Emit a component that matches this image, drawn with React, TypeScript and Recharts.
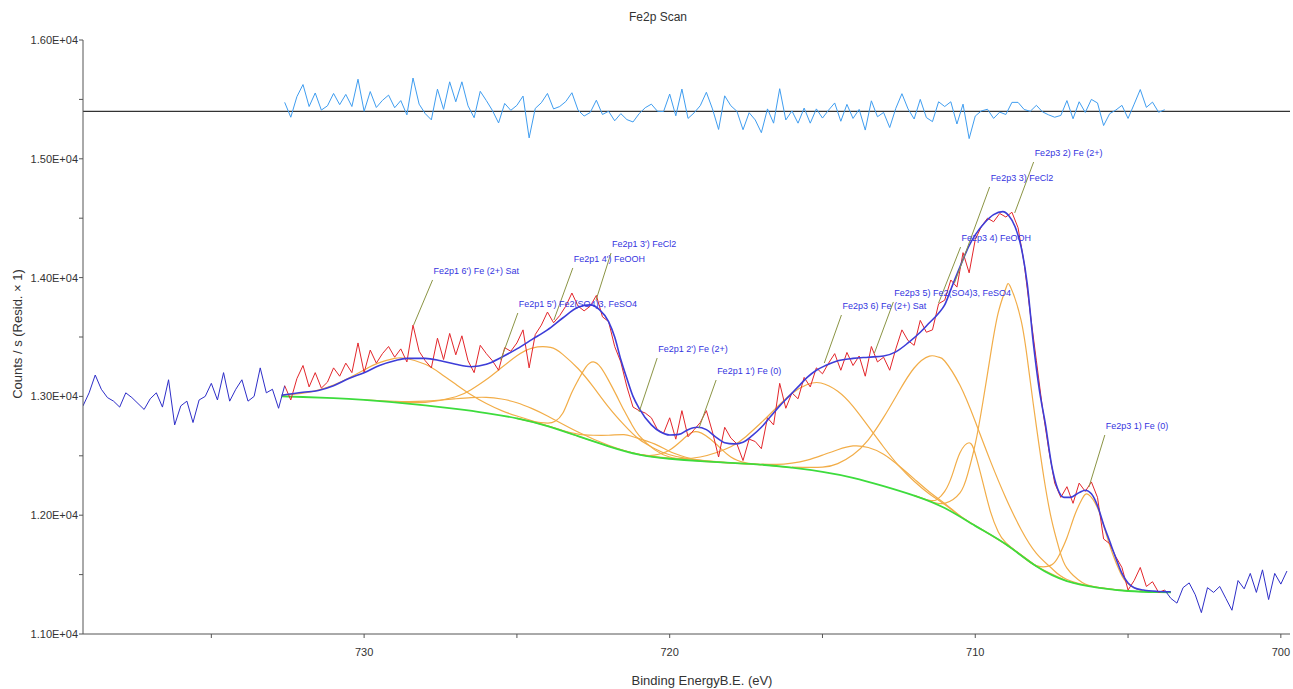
import React from "react";
import {
  ComposedChart,
  Line,
  Scatter,
  XAxis,
  YAxis,
  ReferenceLine,
} from "recharts";

// axis ticks
const xTicks = [735, 730, 725, 720, 715, 710, 705, 700];
const yTicks = [11000, 11500, 12000, 12500, 13000, 13500, 14000, 14500, 15000, 15500, 16000];

// raw counts outside the fitted region (drawn blue)
const rawLeft: [number, number][] = [
  [739.2, 12920], [739.0, 13030], [738.8, 13180], [738.6, 13060], [738.4, 12990], [738.2, 12960],
  [738.0, 12910], [737.8, 13030], [737.6, 12990], [737.4, 12940], [737.2, 12890], [737.0, 12980],
  [736.8, 13030], [736.6, 12910], [736.4, 13140], [736.2, 12760], [736.0, 12920], [735.8, 12960],
  [735.6, 12780], [735.4, 12970], [735.2, 13000], [735.0, 13110], [734.8, 12970], [734.6, 13200],
  [734.4, 12960], [734.2, 13060], [734.0, 13140], [733.8, 12960], [733.6, 13000], [733.4, 13240],
  [733.2, 13030], [733.0, 13060], [732.8, 12900], [732.6, 13090],
];

const rawRight: [number, number][] = [
  [703.8, 11370], [703.6, 11300], [703.4, 11260], [703.2, 11390], [703.0, 11430], [702.8, 11330],
  [702.6, 11180], [702.4, 11390], [702.2, 11350], [702.0, 11400], [701.8, 11300], [701.6, 11200],
  [701.4, 11450], [701.2, 11380], [701.0, 11510], [700.8, 11350], [700.6, 11540], [700.4, 11290],
  [700.2, 11510], [700.0, 11420], [699.8, 11530],
];

// raw counts inside the fitted region (drawn red)
const fitRegion: [number, number][] = [
  [732.6, 13090], [732.4, 12970], [732.2, 13150], [732.0, 13260], [731.8, 13080], [731.6, 13200],
  [731.4, 13070], [731.2, 13120], [731.0, 13240], [730.8, 13170], [730.6, 13280], [730.4, 13200],
  [730.2, 13450], [730.0, 13200], [729.8, 13390], [729.6, 13280], [729.4, 13360], [729.2, 13420],
  [729.0, 13330], [728.8, 13400], [728.6, 13290], [728.4, 13600], [728.2, 13380], [728.0, 13300],
  [727.8, 13240], [727.6, 13490], [727.4, 13310], [727.2, 13530], [727.0, 13350], [726.8, 13510],
  [726.6, 13300], [726.4, 13200], [726.2, 13430], [726.0, 13360], [725.8, 13300], [725.6, 13220],
  [725.4, 13410], [725.2, 13380], [725.0, 13450], [724.8, 13560], [724.6, 13240], [724.4, 13520],
  [724.2, 13600], [724.0, 13710], [723.8, 13620], [723.6, 13680], [723.4, 13760], [723.2, 13870],
  [723.0, 13760], [722.8, 13720], [722.6, 13760], [722.4, 13850], [722.2, 13670], [722.0, 13630],
  [721.8, 13420], [721.6, 13290], [721.4, 13080], [721.2, 12910], [721.0, 12880], [720.8, 12860],
  [720.6, 12820], [720.4, 12720], [720.2, 12690], [720.0, 12820], [719.8, 12640], [719.6, 12880],
  [719.4, 12660], [719.2, 12720], [719.0, 12780], [718.8, 12880], [718.6, 12700], [718.4, 12490],
  [718.2, 12740], [718.0, 12650], [717.8, 12600], [717.6, 12460], [717.4, 12640], [717.2, 12620],
  [717.0, 12560], [716.8, 12820], [716.6, 12760], [716.4, 13110], [716.2, 12900], [716.0, 13030],
  [715.8, 12980], [715.6, 13160], [715.4, 13080], [715.2, 13240], [715.0, 13190], [714.8, 13280],
  [714.6, 13360], [714.4, 13220], [714.2, 13370], [714.0, 13260], [713.8, 13340], [713.6, 13170],
  [713.4, 13420], [713.2, 13290], [713.0, 13330], [712.8, 13220], [712.6, 13400], [712.4, 13560],
  [712.2, 13470], [712.0, 13430], [711.8, 13640], [711.6, 13540], [711.4, 13560], [711.2, 13780],
  [711.0, 13810], [710.8, 13980], [710.6, 13920], [710.4, 14210], [710.2, 14040], [710.0, 14320],
  [709.8, 14430], [709.6, 14500], [709.4, 14470], [709.2, 14540], [709.0, 14510], [708.8, 14550],
  [708.6, 14420], [708.4, 14120], [708.2, 13700], [708.0, 13300], [707.8, 12900], [707.6, 12560],
  [707.4, 12270], [707.2, 12150], [707.0, 12240], [706.8, 12100], [706.6, 12270], [706.4, 12200],
  [706.2, 12280], [706.0, 12150], [705.8, 11800], [705.6, 11760], [705.4, 11650], [705.2, 11560],
  [705.0, 11370], [704.8, 11450], [704.6, 11560], [704.4, 11400], [704.2, 11440], [704.0, 11350],
  [703.8, 11370],
];

// residual, offset to the 15400 line
const residual: [number, number][] = [
  [732.6, 15475], [732.4, 15350], [732.2, 15523], [732.0, 15625], [731.8, 15440], [731.6, 15554],
  [731.4, 15410], [731.2, 15446], [731.0, 15550], [730.8, 15456], [730.6, 15542], [730.4, 15440],
  [730.2, 15670], [730.0, 15400], [729.8, 15566], [729.6, 15432], [729.4, 15492], [729.2, 15536],
  [729.0, 15430], [728.8, 15490], [728.6, 15370], [728.4, 15680], [728.2, 15460], [728.0, 15380],
  [727.8, 15328], [727.6, 15586], [727.4, 15416], [727.2, 15648], [727.0, 15480], [726.8, 15648],
  [726.6, 15446], [726.4, 15346], [726.2, 15568], [726.0, 15490], [725.8, 15406], [725.6, 15302],
  [725.4, 15466], [725.2, 15408], [725.0, 15450], [724.8, 15528], [724.6, 15176], [724.4, 15424],
  [724.2, 15472], [724.0, 15550], [723.8, 15420], [723.6, 15440], [723.4, 15482], [723.2, 15556],
  [723.0, 15410], [722.8, 15360], [722.6, 15390], [722.4, 15493], [722.2, 15373], [722.0, 15400],
  [721.8, 15320], [721.6, 15380], [721.4, 15330], [721.2, 15310], [721.0, 15380], [720.8, 15430],
  [720.6, 15460], [720.4, 15400], [720.2, 15398], [720.0, 15545], [719.8, 15362], [719.6, 15587],
  [719.4, 15340], [719.2, 15387], [719.0, 15447], [718.8, 15560], [718.6, 15420], [718.4, 15247],
  [718.2, 15530], [718.0, 15447], [717.8, 15400], [717.6, 15245], [717.4, 15388], [717.2, 15327],
  [717.0, 15220], [716.8, 15420], [716.6, 15300], [716.4, 15590], [716.2, 15327], [716.0, 15403],
  [715.8, 15300], [715.6, 15427], [715.4, 15300], [715.2, 15420], [715.0, 15343], [714.8, 15410],
  [714.6, 15470], [714.4, 15316], [714.2, 15458], [714.0, 15340], [713.8, 15416], [713.6, 15242],
  [713.4, 15488], [713.2, 15354], [713.0, 15390], [712.8, 15263], [712.6, 15425], [712.4, 15548],
  [712.2, 15420], [712.0, 15335], [711.8, 15500], [711.6, 15347], [711.4, 15313], [711.2, 15480],
  [711.0, 15440], [710.8, 15480], [710.6, 15293], [710.4, 15460], [710.2, 15170], [710.0, 15360],
  [709.8, 15403], [709.6, 15417], [709.4, 15340], [709.2, 15393], [709.0, 15373], [708.8, 15475],
  [708.6, 15475], [708.4, 15415], [708.2, 15400], [708.0, 15450], [707.8, 15395], [707.6, 15370],
  [707.4, 15350], [707.2, 15365], [707.0, 15490], [706.8, 15337], [706.6, 15480], [706.4, 15390],
  [706.2, 15500], [706.0, 15470], [705.8, 15280], [705.6, 15380], [705.4, 15410], [705.2, 15450],
  [705.0, 15340], [704.8, 15460], [704.6, 15583], [704.4, 15433], [704.2, 15477], [704.0, 15392],
  [703.8, 15413],
];

// fitted envelope
const envelope: [number, number][] = [
  [732.7, 13010], [732.0, 13035], [731.5, 13050], [731.0, 13090], [730.5, 13150], [730.0, 13200],
  [729.5, 13260], [729.0, 13300], [728.6, 13320], [728.0, 13320], [727.5, 13300], [727.0, 13270],
  [726.5, 13250], [726.0, 13270], [725.5, 13330], [725.0, 13400], [724.5, 13480], [724.0, 13560],
  [723.5, 13660], [723.0, 13750], [722.6, 13770], [722.3, 13730], [722.0, 13630], [721.8, 13500],
  [721.6, 13310], [721.4, 13150], [721.2, 13000], [721.0, 12900], [720.6, 12760], [720.3, 12700],
  [720.0, 12675], [719.7, 12680], [719.4, 12720], [719.1, 12740], [718.8, 12720], [718.5, 12660],
  [718.2, 12610], [717.9, 12600], [717.6, 12615], [717.3, 12670], [717.0, 12740], [716.7, 12830],
  [716.4, 12920], [716.1, 13000], [715.8, 13080], [715.5, 13160], [715.2, 13220], [714.9, 13260],
  [714.5, 13300], [714.0, 13320], [713.5, 13330], [713.0, 13340], [712.6, 13375], [712.2, 13450],
  [711.8, 13540], [711.5, 13620], [711.2, 13700], [711.0, 13770], [710.8, 13900], [710.5, 14090],
  [710.2, 14270], [710.0, 14360], [709.7, 14460], [709.4, 14530], [709.1, 14555], [708.9, 14520],
  [708.7, 14430], [708.5, 14260], [708.3, 13950], [708.1, 13450], [707.9, 13050], [707.7, 12760],
  [707.5, 12420], [707.3, 12220], [707.1, 12150], [706.9, 12150], [706.6, 12190], [706.4, 12210],
  [706.2, 12180], [706.0, 12080], [705.8, 11920], [705.6, 11780], [705.4, 11640], [705.2, 11510],
  [705.0, 11430], [704.8, 11390], [704.5, 11370], [704.0, 11358], [703.6, 11355],
];

// Shirley background
const background: [number, number][] = [
  [732.7, 13000], [732.0, 12995], [731.0, 12985], [730.0, 12970], [729.0, 12950], [728.0, 12925],
  [727.0, 12895], [726.0, 12860], [725.0, 12815], [724.0, 12750], [723.0, 12665], [722.0, 12580],
  [721.0, 12510], [720.0, 12475], [719.0, 12455], [718.0, 12440], [717.0, 12425], [716.0, 12400],
  [715.0, 12365], [714.0, 12315], [713.0, 12245], [712.0, 12165], [711.0, 12060], [710.0, 11910],
  [709.0, 11755], [708.0, 11570], [707.0, 11445], [706.0, 11390], [705.0, 11362], [704.0, 11352],
  [703.6, 11350],
];

// fitted components
const fe2p3_1: [number, number][] = [
  [709.0, 11755], [708.5, 11662], [708.0, 11575], [707.5, 11582], [707.25, 11665], [707.0, 11810],
  [706.75, 11997], [706.5, 12139], [706.3, 12175], [706.0, 12063], [705.75, 11872], [705.5, 11671],
  [705.25, 11515], [705.0, 11422], [704.5, 11361], [704.0, 11352], [703.6, 11350],
];
const fe2p3_2: [number, number][] = [
  [712.0, 12168], [711.5, 12120], [711.0, 12100], [710.5, 12187], [710.25, 12343], [710.0, 12600],
  [709.75, 12953], [709.5, 13352], [709.25, 13703], [709.0, 13908], [708.85, 13923], [708.5, 13640],
  [708.25, 13225], [708.0, 12747], [707.75, 12309], [707.5, 11958], [707.25, 11712], [707.0, 11554],
  [706.5, 11433], [706.0, 11393], [705.0, 11362],
];
const fe2p3_3: [number, number][] = [
  [712.0, 12165], [711.5, 12125], [711.25, 12133], [711.0, 12200], [710.75, 12342], [710.5, 12525],
  [710.2, 12610], [710.0, 12516], [709.75, 12274], [709.5, 12028], [709.25, 11860], [709.0, 11769],
  [708.5, 11662], [708.0, 11570], [707.0, 11445],
];
const fe2p3_4: [number, number][] = [
  [716.0, 12405], [715.0, 12405], [714.5, 12434], [714.0, 12509], [713.5, 12635], [713.0, 12823],
  [712.5, 13041], [712.0, 13239], [711.5, 13339], [711.2, 13330], [711.0, 13298], [710.5, 13093],
  [710.0, 12788], [709.5, 12453], [709.0, 12145], [708.5, 11880], [708.0, 11679], [707.5, 11553],
  [707.0, 11459], [706.0, 11392], [705.0, 11362],
];
const fe2p3_5: [number, number][] = [
  [717.0, 12431], [716.5, 12428], [716.0, 12439], [715.5, 12464], [715.0, 12506], [714.5, 12551],
  [714.0, 12583], [713.5, 12570], [713.0, 12513], [712.5, 12416], [712.0, 12306], [711.5, 12196],
  [711.0, 12099], [710.5, 11996], [710.0, 11912], [709.0, 11755], [708.0, 11570],
];
const fe2p3_6: [number, number][] = [
  [721.0, 12510], [720.0, 12481], [719.0, 12490], [718.0, 12576], [717.5, 12663], [717.0, 12780],
  [716.5, 12907], [716.0, 13025], [715.5, 13100], [715.05, 13113], [714.5, 13043], [714.0, 12916],
  [713.5, 12747], [713.0, 12574], [712.5, 12415], [712.0, 12286], [711.5, 12179], [711.0, 12090],
  [710.5, 11993], [710.0, 11912], [709.0, 11756], [708.0, 11570],
];
const fe2p1_1: [number, number][] = [
  [722.0, 12580], [721.0, 12512], [720.5, 12506], [720.0, 12549], [719.5, 12654], [719.07, 12701],
  [718.5, 12603], [718.0, 12490], [717.5, 12440], [717.0, 12425], [716.0, 12400],
];
const fe2p1_2: [number, number][] = [
  [725.0, 12815], [724.0, 12752], [723.5, 12713], [723.0, 12683], [722.5, 12673], [722.0, 12673],
  [721.5, 12678], [721.17, 12658], [720.5, 12600], [720.0, 12536], [719.5, 12490], [719.0, 12463],
  [718.0, 12440], [717.0, 12425],
];
const fe2p1_3: [number, number][] = [
  [725.0, 12815], [724.5, 12790], [724.0, 12775], [723.75, 12790], [723.5, 12858], [723.25, 13006],
  [723.0, 13135], [722.75, 13245], [722.5, 13290], [722.25, 13242], [722.0, 13135], [721.75, 13013],
  [721.5, 12885], [721.25, 12768], [721.0, 12670], [720.5, 12552], [720.0, 12490], [719.5, 12468],
  [719.0, 12455], [718.0, 12440],
];
const fe2p1_4: [number, number][] = [
  [729.0, 12954], [728.0, 12950], [727.0, 12997], [726.5, 13056], [726.0, 13142], [725.5, 13243],
  [725.0, 13342], [724.5, 13407], [723.9, 13412], [723.5, 13354], [723.0, 13235], [722.5, 13080],
  [722.0, 12910], [721.5, 12762], [721.0, 12639], [720.5, 12562], [720.0, 12509], [719.0, 12461],
  [718.0, 12440], [717.0, 12425],
];
const fe2p1_5: [number, number][] = [
  [730.0, 12972], [729.0, 12959], [728.0, 12960], [727.0, 12980], [726.5, 12990], [726.0, 12992],
  [725.5, 12978], [725.0, 12947], [724.5, 12897], [724.0, 12835], [723.0, 12700], [722.0, 12589],
  [721.0, 12512], [720.0, 12475],
];
const fe2p1_6: [number, number][] = [
  [732.7, 13010], [732.0, 13027], [731.5, 13053], [731.0, 13096], [730.5, 13155], [730.0, 13223],
  [729.5, 13284], [729.0, 13320], [728.65, 13321], [728.0, 13271], [727.5, 13193], [727.0, 13102],
  [726.5, 13014], [726.0, 12940], [725.5, 12880], [725.0, 12835], [724.0, 12753], [723.0, 12665],
  [722.0, 12580],
];

const components = [
  fe2p3_1, fe2p3_2, fe2p3_3, fe2p3_4, fe2p3_5, fe2p3_6,
  fe2p1_1, fe2p1_2, fe2p1_3, fe2p1_4, fe2p1_5, fe2p1_6,
];

// peak annotations: text, point on the envelope, top of the leader line
const annoText = [
  "Fe2p1 6') Fe (2+) Sat",
  "Fe2p1 5') Fe2(SO4)3, FeSO4",
  "Fe2p1 4') FeOOH",
  "Fe2p1 3') FeCl2",
  "Fe2p1 2') Fe (2+)",
  "Fe2p1  1') Fe (0)",
  "Fe2p3  6) Fe (2+) Sat",
  "Fe2p3 5) Fe2(SO4)3, FeSO4",
  "Fe2p3 4) FeOOH",
  "Fe2p3 3) FeCl2",
  "Fe2p3 2) Fe (2+)",
  "Fe2p3 1) Fe (0)",
];
const annoTip: [number, number][] = [
  [728.38, 13601], [725.53, 13306], [723.79, 13643], [722.41, 13811], [721.0, 12869], [719.04, 12734],
  [714.94, 13281], [713.3, 13365], [711.2, 13786], [710.68, 13955], [708.71, 14544], [706.28, 12237],
];
const annoTop: [number, number][] = [
  [727.76, 13980], [724.97, 13702], [723.17, 14081], [721.92, 14207], [720.41, 13323], [718.48, 13138],
  [714.38, 13685], [712.68, 13795], [710.48, 14257], [709.53, 14763], [708.09, 14973], [705.76, 12675],
];

const pts = (arr: [number, number][]) => arr.map(([ev, cps]) => ({ ev, cps }));

const FONT = "'Liberation Sans', Arial, sans-serif";

const fmtY = (v: number) => (v % 1000 === 0 ? (v / 10000).toFixed(2) + "E+04" : "");
const fmtX = (v: number) => (v % 10 === 0 ? String(v) : "");

const AnnoLabel = (props: any) => {
  const { cx, cy, payload } = props;
  if (cx == null || cy == null) return null;
  return (
    <text
      x={cx + 1}
      y={cy - 6}
      fontSize={9}
      fontFamily={FONT}
      fill="#3535e0"
    >
      {payload.name}
    </text>
  );
};

export default function App() {
  const labelPts = annoTop.map(([ev, cps], i) => ({ ev, cps, name: annoText[i] }));

  return (
    <div style={{ position: "absolute", left: 0, top: 0, width: 1293, height: 689, background: "#fff" }}>
      <ComposedChart
        width={1293}
        height={689}
        margin={{ top: 40, right: 3, bottom: 5, left: 0 }}
      >
        <XAxis
          dataKey="ev"
          type="number"
          domain={[699.7, 739.2]}
          reversed
          allowDataOverflow
          ticks={xTicks}
          tickFormatter={fmtX}
          height={50}
          tickSize={4}
          tickMargin={10}
          stroke="#555"
          tick={{ fill: "#333", fontSize: 11, fontFamily: FONT }}
        />
        <YAxis
          dataKey="cps"
          type="number"
          domain={[11000, 16000]}
          allowDataOverflow
          ticks={yTicks}
          tickFormatter={fmtY}
          width={83}
          tickSize={4}
          tickMargin={1}
          stroke="#555"
          tick={{ fill: "#333", fontSize: 11, fontFamily: FONT }}
        />

        {components.map((c, i) => (
          <Line
            key={"comp" + i}
            data={pts(c)}
            dataKey="cps"
            type="natural"
            stroke="#f2ad48"
            strokeWidth={1.2}
            dot={false}
            isAnimationActive={false}
          />
        ))}

        <Line data={pts(background)} dataKey="cps" type="natural" stroke="#3ddc3d" strokeWidth={1.8} dot={false} isAnimationActive={false} />
        <Line data={pts(rawLeft)} dataKey="cps" type="linear" stroke="#2e2ec8" strokeWidth={1} dot={false} isAnimationActive={false} />
        <Line data={pts(rawRight)} dataKey="cps" type="linear" stroke="#2e2ec8" strokeWidth={1} dot={false} isAnimationActive={false} />
        <Line data={pts(fitRegion)} dataKey="cps" type="linear" stroke="#e3262b" strokeWidth={1} dot={false} isAnimationActive={false} />
        <Line data={pts(envelope)} dataKey="cps" type="monotone" stroke="#3d3dd8" strokeWidth={1.6} dot={false} isAnimationActive={false} />

        <ReferenceLine y={15400} stroke="#333" strokeWidth={1.3} />
        <Line data={pts(residual)} dataKey="cps" type="linear" stroke="#3f9df0" strokeWidth={1} dot={false} isAnimationActive={false} />

        {annoTip.map((tip, i) => (
          <Line
            key={"lead" + i}
            data={pts([tip, annoTop[i]])}
            dataKey="cps"
            type="linear"
            stroke="#8b9444"
            strokeWidth={1}
            dot={false}
            isAnimationActive={false}
          />
        ))}
        <Scatter data={labelPts} dataKey="cps" shape={AnnoLabel} isAnimationActive={false} />
      </ComposedChart>

      <svg
        width={1293}
        height={689}
        style={{ position: "absolute", left: 0, top: 0, pointerEvents: "none" }}
      >
        <text x={658} y={21} textAnchor="middle" fontSize={12} fontFamily={FONT} fill="#333">
          Fe2p Scan
        </text>
        <text x={702} y={685} textAnchor="middle" fontSize={13} fontFamily={FONT} fill="#333">
          Binding EnergyB.E. (eV)
        </text>
        <text
          x={17}
          y={334}
          textAnchor="middle"
          dominantBaseline="central"
          transform="rotate(-90 17 334)"
          fontSize={13}
          fontFamily={FONT}
          fill="#333"
        >
          Counts / s  (Resid. × 1)
        </text>
      </svg>
    </div>
  );
}
